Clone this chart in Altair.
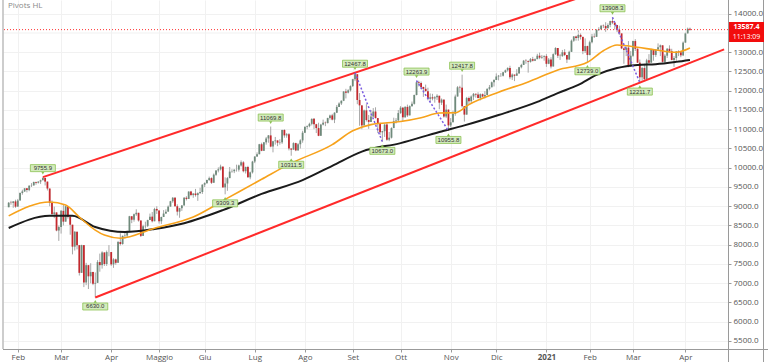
import altair as alt
import pandas as pd

UP = "#6f8a7b"
DOWN = "#c4282d"

# ---- daily candles (close / high / low), grouped by month ----
month_labels = ["", "Feb", "Mar", "Apr", "Maggio", "Giu", "Lug", "Ago", "Set",
                "Ott", "Nov", "Dic", "2021", "Feb", "Mar", "Apr"]
first_open = 8975

closes = [
    [9090, 9085, 9125, 8990],
    [9150, 9345, 9385, 9465, 9420, 9535, 9540, 9630, 9610, 9640, 9675, 9735, 9640, 9460, 9085, 8800, 8840, 8370, 8460],
    [8880, 8600, 9000, 8730, 8520, 7950, 8340, 7990, 7270, 7990, 7020, 7470, 7180, 7290, 6990, 7010, 7550, 7470, 7800, 7500, 7810, 7810],
    [7490, 7620, 7530, 8070, 8020, 8230, 8240, 8350, 8740, 8650, 8790, 8830, 8630, 8230, 8480, 8490, 8640, 8730, 8610, 8930, 8890],
    [8610, 8720, 8810, 8860, 8990, 9130, 9220, 9000, 8860, 8950, 9020, 9220, 9190, 9380, 9290, 9330, 9290, 9340, 9370, 9560],
    [9600, 9680, 9730, 9610, 9820, 9930, 9960, 10030, 9490, 9590, 9730, 9900, 9910, 9950, 9950, 10060, 10140, 9910, 10020, 9750, 9880, 10160],
    [10290, 10350, 10610, 10440, 10660, 10760, 10840, 10550, 10690, 10710, 10650, 10660, 10980, 10840, 10870, 10500, 10470, 10640, 10450, 10610, 10710, 10910],
    [11060, 11080, 11140, 11270, 11130, 11030, 10830, 11120, 11170, 11160, 11290, 11360, 11250, 11430, 11580, 11670, 11740, 11980, 11950, 12010, 12120],
    [12300, 12430, 11760, 11620, 11100, 11490, 11240, 11190, 11330, 11460, 11290, 11150, 10920, 10950, 11120, 10730, 10780, 11030, 11210, 11230, 11420],
    [11560, 11310, 11580, 11360, 11600, 11660, 11890, 12220, 12200, 12100, 12050, 11990, 11790, 11830, 11800, 11830, 11870, 11690, 11770, 11330, 11510, 11100],
    [11180, 11400, 11850, 12090, 12080, 11600, 11380, 11810, 11730, 11850, 11920, 11900, 11810, 11910, 11850, 11890, 12050, 12090, 12220, 12280],
    [12370, 12390, 12390, 12480, 12530, 12590, 12350, 12420, 12390, 12450, 12610, 12670, 12780, 12770, 12750, 12820, 12780, 12820, 12910, 12860, 12880, 12900],
    [12700, 12810, 12630, 12950, 13110, 12910, 12900, 13000, 12930, 12810, 13010, 13300, 13410, 13370, 13450, 13400, 13030, 13160, 12930],
    [13260, 13410, 13400, 13580, 13600, 13690, 13680, 13620, 13710, 13810, 13770, 13710, 13580, 13490, 13100, 13060, 13120, 12630, 12910],
    [13290, 13090, 12730, 12350, 12590, 12300, 12790, 12730, 13060, 12930, 13070, 13130, 13180, 12750, 12910, 13090, 13030, 12800, 12850, 13020, 13000, 12920, 13250],
    [13490, 13610, 13587.4],
]
highs = [
    [9110, 9140, 9135, 9170],
    [9190, 9360, 9430, 9470, 9470, 9540, 9600, 9640, 9640, 9650, 9690, 9755.9, 9740, 9600, 9200, 9150, 8990, 8800, 8500],
    [8900, 9050, 9010, 8910, 8640, 8250, 8350, 8270, 7760, 8000, 7550, 7530, 7400, 7520, 7300, 7280, 7600, 7770, 7830, 7700, 7850, 7990],
    [7740, 7650, 7640, 8100, 8300, 8240, 8320, 8370, 8750, 8700, 8810, 8920, 8780, 8550, 8520, 8600, 8650, 8810, 8850, 8960, 9000],
    [8800, 8730, 8900, 8920, 9020, 9140, 9240, 9240, 9050, 8960, 9030, 9240, 9260, 9390, 9400, 9340, 9450, 9360, 9480, 9570],
    [9620, 9690, 9770, 9750, 9850, 9935, 10010, 10080, 9880, 9750, 9760, 10020, 9960, 9960, 10080, 10080, 10190, 10170, 10030, 10050, 9900, 10180],
    [10300, 10400, 10620, 10650, 10670, 10800, 10850, 11069.8, 10700, 10800, 10700, 10740, 10990, 11000, 10900, 10900, 10500, 10660, 10650, 10640, 10740, 10960],
    [11080, 11100, 11170, 11280, 11290, 11140, 11170, 11140, 11250, 11200, 11300, 11380, 11400, 11440, 11630, 11700, 11750, 11990, 12050, 12040, 12140],
    [12310, 12467.8, 12400, 11940, 11400, 11510, 11650, 11370, 11500, 11550, 11570, 11230, 11170, 10960, 11150, 11180, 10930, 11050, 11300, 11290, 11500],
    [11600, 11580, 11600, 11640, 11620, 11720, 11900, 12263.9, 12260, 12240, 12100, 12160, 12080, 11930, 11920, 11860, 11910, 11850, 11800, 11620, 11640, 11480],
    [11290, 11480, 11900, 12120, 12130, 12417.8, 11600, 11840, 11850, 11880, 11940, 11930, 11960, 11930, 11930, 11990, 12060, 12150, 12240, 12300],
    [12450, 12410, 12460, 12490, 12550, 12610, 12650, 12450, 12420, 12560, 12620, 12700, 12800, 12820, 12790, 12850, 12880, 12840, 12960, 12990, 12930, 12920],
    [12950, 12850, 12870, 12970, 13130, 13030, 12960, 13060, 13080, 12930, 13040, 13330, 13420, 13430, 13570, 13500, 13340, 13360, 13170],
    [13300, 13480, 13500, 13600, 13650, 13710, 13720, 13780, 13750, 13820, 13908.3, 13730, 13710, 13690, 13450, 13120, 13150, 13290, 13030],
    [13300, 13340, 13100, 12810, 12620, 12700, 12830, 12950, 13090, 13000, 13080, 13230, 13200, 13080, 12950, 13110, 13180, 13090, 12900, 13030, 13050, 13000, 13280],
    [13520, 13640, 13640],
]
lows = [
    [8980, 9040, 8960, 8960],
    [8990, 9200, 9300, 9370, 9360, 9390, 9500, 9540, 9560, 9590, 9580, 9690, 9540, 9410, 9000, 8770, 8690, 8350, 8100],
    [8290, 8500, 8600, 8680, 8260, 7750, 7850, 7880, 7200, 7350, 6900, 6950, 6850, 7000, 6950, 6630.0, 7250, 7300, 7380, 7450, 7450, 7700],
    [7450, 7400, 7480, 7700, 7980, 8000, 8160, 8180, 8480, 8560, 8600, 8750, 8600, 8200, 8330, 8420, 8460, 8640, 8580, 8700, 8800],
    [8550, 8540, 8730, 8800, 8900, 9000, 9090, 8990, 8760, 8700, 8880, 9050, 9150, 9220, 9260, 9220, 9250, 9140, 9330, 9320],
    [9500, 9590, 9660, 9580, 9650, 9790, 9880, 9930, 9480, 9309.3, 9400, 9800, 9870, 9860, 9900, 9900, 10030, 9880, 9850, 9740, 9700, 9850],
    [10120, 10280, 10400, 10430, 10450, 10600, 10650, 10530, 10400, 10600, 10560, 10600, 10620, 10780, 10780, 10450, 10311.5, 10480, 10430, 10450, 10500, 10650],
    [10900, 11000, 11050, 11100, 11000, 10900, 10820, 10900, 11100, 11080, 11150, 11250, 11230, 11160, 11420, 11580, 11630, 11730, 11800, 11930, 11980],
    [12100, 12250, 11650, 11090, 11000, 11190, 11200, 11010, 11210, 11320, 11280, 10900, 10850, 10673.0, 10800, 10700, 10690, 10760, 11130, 11150, 11200],
    [11400, 11200, 11300, 11320, 11380, 11590, 11640, 11880, 12110, 12040, 11840, 11980, 11750, 11700, 11750, 11690, 11760, 11520, 11630, 11300, 11290, 10955.8],
    [11050, 11180, 11350, 11880, 11950, 11560, 11200, 11550, 11640, 11660, 11760, 11820, 11800, 11750, 11830, 11800, 11880, 12010, 12090, 12110],
    [12280, 12270, 12360, 12370, 12460, 12500, 12300, 12280, 12250, 12410, 12480, 12580, 12680, 12700, 12470, 12730, 12760, 12770, 12850, 12820, 12830, 12780],
    [12620, 12690, 12580, 12650, 12930, 12850, 12800, 12880, 12900, 12720, 12820, 13050, 13270, 13300, 13300, 13330, 12950, 12980, 12739.0],
    [12920, 13230, 13370, 13400, 13550, 13590, 13630, 13530, 13620, 13650, 13730, 13590, 13520, 13450, 13080, 12700, 12900, 12610, 12630],
    [12880, 13030, 12720, 12211.7, 12260, 12280, 12420, 12700, 12860, 12780, 12880, 13050, 12900, 12730, 12700, 12850, 12990, 12790, 12620, 12750, 12900, 12870, 12900],
    [13250, 13480, 13560],
]

# ---- moving averages (trading-day index, value) ----
ma50_idx = [0, 18, 25, 31, 38, 42, 49, 64, 81, 96, 111, 124, 142, 151, 159, 172, 181, 189, 196, 202, 215, 228, 241, 254, 261, 267, 276, 284, 293, 299]
ma50_val = [8750, 9110, 9030, 8720, 8380, 8250, 8170, 8430, 8720, 9210, 9700, 10120, 10600, 10960, 11120, 11200, 11300, 11420, 11430, 11640, 11960, 12230, 12540, 12740, 13040, 13190, 13130, 13060, 13000, 13110]
ma200_idx = [0, 18, 28, 38, 51, 64, 77, 94, 111, 129, 142, 155, 172, 189, 200, 215, 232, 241, 250, 258, 267, 276, 284, 293, 299]
ma200_val = [8435, 8750, 8750, 8460, 8330, 8410, 8560, 8900, 9320, 9680, 10050, 10420, 10640, 10930, 11100, 11370, 11710, 11940, 12150, 12410, 12590, 12670, 12690, 12750, 12800]

# ---- pivots ----
pivot_hi_idx = [15, 115, 152, 179, 199, 265]
pivot_hi_val = [9755.9, 11069.8, 12467.8, 12263.9, 12417.8, 13908.3]
pivot_lo_idx = [38, 95, 124, 164, 193, 254, 277]
pivot_lo_val = [6630.0, 9309.3, 10311.5, 10673.0, 10955.8, 12739.0, 12211.7]

# zigzag (dotted) segments: high -> low
zig_idx = [[152, 164], [179, 193], [265, 277]]
zig_val = [[12467.8, 10673.0], [12263.9, 10955.8], [13908.3, 12211.7]]

# channel lines
chan_idx = [[15, 252], [38, 314]]
chan_val = [[9755.9, 14447], [6630.0, 13076]]

# price-axis labels (13500.0 is hidden behind the last-price tag in the reference)
y_ticks = [5500, 6000, 6500, 7000, 7500, 8000, 8500, 9000, 9500, 10000, 10500,
           11000, 11500, 12000, 12500, 13000, 14000]
hidden_grid = [13500]

last_price = 13587.4
last_text = "13587.4"
countdown = "11:13:09"

# ---- build tables ----
rows = []
tick_vals, tick_names = [], []
i = 0
prev = first_open
for m, (cs, hs, ls) in enumerate(zip(closes, highs, lows)):
    if month_labels[m]:
        tick_vals.append(i)
        tick_names.append(month_labels[m])
    for c, h, l in zip(cs, hs, ls):
        o = prev
        rows.append({"i": i, "o": o, "c": c, "h": max(h, o, c), "l": min(l, o, c)})
        prev = c
        i += 1
candles = pd.DataFrame(rows)

ma50 = pd.DataFrame({"i": ma50_idx, "v": ma50_val})
ma200 = pd.DataFrame({"i": ma200_idx, "v": ma200_val})
piv_hi = pd.DataFrame({"i": pivot_hi_idx, "v": pivot_hi_val, "t": [f"{v:.1f}" for v in pivot_hi_val]})
piv_lo = pd.DataFrame({"i": pivot_lo_idx, "v": pivot_lo_val, "t": [f"{v:.1f}" for v in pivot_lo_val]})
zig = pd.DataFrame([{"seg": s, "i": a, "v": b} for s, (ia, va) in enumerate(zip(zig_idx, zig_val)) for a, b in zip(ia, va)])
chan = pd.DataFrame([{"seg": s, "i": a, "v": b} for s, (ia, va) in enumerate(zip(chan_idx, chan_val)) for a, b in zip(ia, va)])
price = pd.DataFrame({"v": [last_price]})
grid_extra = pd.DataFrame({"v": hidden_grid})
one = pd.DataFrame({"a": [1]})

jan21 = tick_vals[tick_names.index("2021")]
label_expr = " : ".join(f"datum.value == {v} ? '{n}'" for v, n in zip(tick_vals, tick_names)) + " : ''"

FONT = "Open Sans"
xsc = alt.Scale(domain=[-0.3, 313.5], nice=False, zero=False)
ysc = alt.Scale(domain=[5292, 14357], nice=False, zero=False)
xax = alt.Axis(values=tick_vals, labelExpr=label_expr, title=None, domain=False,
               tickSize=3, tickColor="#9a9a9a", labelFontSize=8, labelColor="#555555",
               labelPadding=1, grid=True, gridColor="#f1f1f1", labelFont=FONT,
               labelFontWeight={"expr": f"datum.value == {jan21} ? 'bold' : 'normal'"},
               labelOverlap=False, labelFlush=False)
yax = alt.Axis(orient="right", values=y_ticks, format=".1f",
               title=None, domain=False, tickSize=3, tickColor="#9a9a9a",
               labelFontSize=8, labelColor="#555555", labelPadding=2, labelFont=FONT,
               grid=True, gridColor="#f1f1f1")


def X(f="i"):
    return alt.X(f, type="quantitative", scale=xsc, axis=xax)


def Y(f):
    return alt.Y(f, type="quantitative", scale=ysc, axis=yax)


grid13500 = alt.Chart(grid_extra).mark_rule(color="#f1f1f1", strokeWidth=1).encode(y=Y("v"))

wicks = alt.Chart(candles).mark_rule(color="#a6a6a6", strokeWidth=1).encode(x=X(), y=Y("l"), y2="h")
bodies = alt.Chart(candles).mark_bar(size=1.8).encode(
    x=X(), y=Y("o"), y2="c",
    color=alt.condition("datum.c >= datum.o", alt.value(UP), alt.value(DOWN)))

line50 = alt.Chart(ma50).mark_line(color="#f7a21b", strokeWidth=1.6, interpolate="monotone").encode(x=X(), y=Y("v"))
line200 = alt.Chart(ma200).mark_line(color="#1b1b1b", strokeWidth=2, interpolate="monotone").encode(x=X(), y=Y("v"))

channel = alt.Chart(chan).mark_line(color="#ff2a2a", strokeWidth=2, clip=True).encode(x=X(), y=Y("v"), detail="seg:N")
zigzag = alt.Chart(zig).mark_line(color="#7a5ce0", strokeWidth=1.5, strokeDash=[2, 2]).encode(x=X(), y=Y("v"), detail="seg:N")

pline = alt.Chart(price).mark_rule(color="#ff3030", strokeWidth=1, strokeDash=[1, 2]).encode(y=Y("v"))

BOX = "M-1,-0.28H1V0.28H-1Z"
box_fill = "#d3ebbd"
box_stroke = "#8cc152"
hi_box = alt.Chart(piv_hi).mark_point(shape=BOX, size=625, filled=True, fill=box_fill, stroke=box_stroke,
                                      strokeWidth=0.8, opacity=1, yOffset=-9).encode(x=X(), y=Y("v"))
hi_tri = alt.Chart(piv_hi).mark_point(shape="triangle-down", size=10, filled=True, fill=box_stroke,
                                      opacity=1, yOffset=-4).encode(x=X(), y=Y("v"))
hi_txt = alt.Chart(piv_hi).mark_text(fontSize=6, font="Liberation Sans", color="#333333", dy=-9,
                                     baseline="middle").encode(x=X(), y=Y("v"), text="t:N")
lo_box = alt.Chart(piv_lo).mark_point(shape=BOX, size=625, filled=True, fill=box_fill, stroke=box_stroke,
                                      strokeWidth=0.8, opacity=1, yOffset=9).encode(x=X(), y=Y("v"))
lo_tri = alt.Chart(piv_lo).mark_point(shape="triangle-up", size=10, filled=True, fill=box_stroke,
                                      opacity=1, yOffset=4).encode(x=X(), y=Y("v"))
lo_txt = alt.Chart(piv_lo).mark_text(fontSize=6, font="Liberation Sans", color="#333333", dy=9,
                                     baseline="middle").encode(x=X(), y=Y("v"), text="t:N")

left_border = alt.Chart(one).mark_rule(color="#bdbdbd", strokeWidth=1.5).encode(
    x=alt.value(0), y=alt.value(0), y2=alt.value(349))
right_axis = alt.Chart(one).mark_rule(color="#9a9a9a", strokeWidth=1).encode(
    x=alt.value(725.5), y=alt.value(0), y2=alt.value(362))
outer_right = alt.Chart(one).mark_rule(color="#9a9a9a", strokeWidth=1).encode(
    x=alt.value(760.5), y=alt.value(0), y2=alt.value(362))
bottom_line = alt.Chart(one).mark_rule(color="#9a9a9a", strokeWidth=1).encode(
    x=alt.value(0), x2=alt.value(765), y=alt.value(349.5))

title_txt = alt.Chart(pd.DataFrame({"t": ["Pivots HL"]})).mark_text(
    align="left", baseline="middle", fontSize=8, font=FONT, color="#8a8a8a").encode(
    x=alt.value(5), y=alt.value(5.5), text="t:N")

price_box = alt.Chart(one).mark_rect(color="#f20d0d").encode(
    x=alt.value(726), x2=alt.value(761), y=alt.value(22), y2=alt.value(42))
price_txt = alt.Chart(pd.DataFrame({"t": [last_text]})).mark_text(
    fontSize=7, font=FONT, fontWeight="bold", color="white", baseline="middle").encode(
    x=alt.value(743.5), y=alt.value(27), text="t:N")
count_txt = alt.Chart(pd.DataFrame({"t": [countdown]})).mark_text(
    fontSize=7, font=FONT, color="white", baseline="middle").encode(
    x=alt.value(743.5), y=alt.value(37), text="t:N")

chart = alt.layer(
    wicks, grid13500, bodies, line200, line50, channel, pline, zigzag,
    hi_tri, hi_box, hi_txt, lo_tri, lo_box, lo_txt,
    left_border, right_axis, outer_right, bottom_line, title_txt,
    price_box, price_txt, count_txt,
).properties(
    width=725, height=349,
    autosize=alt.AutoSizeParams(type="none"),
    padding={"left": 3, "right": 40, "top": 0, "bottom": 13},
    background="white",
).configure_view(stroke=None)

chart.save("out.html", embed_options={"renderer": "svg", "actions": False})
